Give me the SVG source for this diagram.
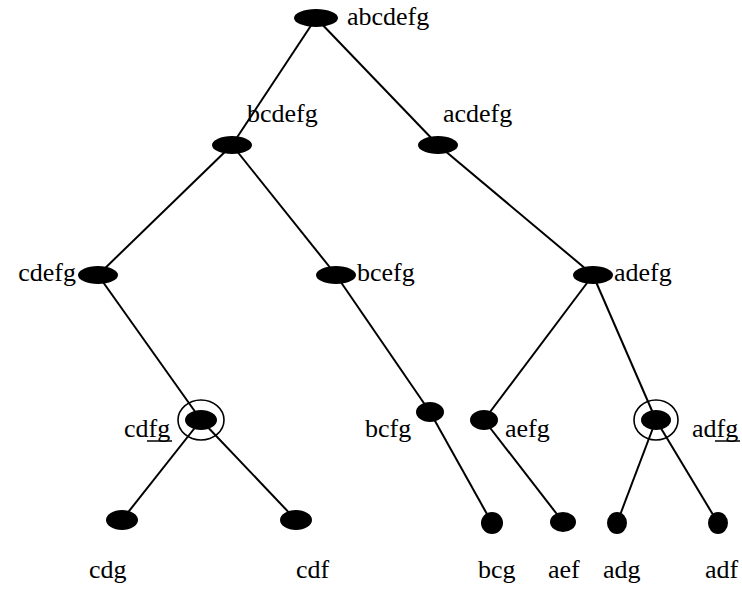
<svg xmlns="http://www.w3.org/2000/svg" width="742" height="593" viewBox="0 0 742 593">
  <style>
    .edge { stroke: #000; stroke-width: 2; fill: none; }
    .dot { fill: #000; }
    .ring { fill: none; stroke: #000; stroke-width: 1.6; }
    .ul { stroke: #000; stroke-width: 1.5; }
  </style>
  <rect width="742" height="593" fill="#fff"/>

  <!-- tree edges, drawn centre to centre under the nodes -->
  <g id="edges">
    <line class="edge" x1="316" y1="18" x2="232" y2="145"/>
    <line class="edge" x1="316" y1="18" x2="438" y2="145"/>
    <line class="edge" x1="232" y1="145" x2="98" y2="275"/>
    <line class="edge" x1="232" y1="145" x2="336" y2="275"/>
    <line class="edge" x1="438" y1="145" x2="593" y2="275"/>
    <line class="edge" x1="98" y1="275" x2="201" y2="420"/>
    <line class="edge" x1="336" y1="275" x2="430" y2="412"/>
    <line class="edge" x1="593" y1="275" x2="484" y2="420"/>
    <line class="edge" x1="593" y1="275" x2="656" y2="420"/>
    <line class="edge" x1="201" y1="420" x2="122" y2="520"/>
    <line class="edge" x1="201" y1="420" x2="296" y2="520"/>
    <line class="edge" x1="430" y1="412" x2="492" y2="523"/>
    <line class="edge" x1="484" y1="420" x2="563" y2="522"/>
    <line class="edge" x1="656" y1="420" x2="617" y2="523"/>
    <line class="edge" x1="656" y1="420" x2="718" y2="523"/>
  </g>

  <g id="nodes" font-family="Liberation Serif" font-size="26" fill="#000">
    <g id="n-abcdefg">
      <ellipse class="dot" cx="316" cy="18" rx="22" ry="9"/>
      <text x="347" y="25">abcdefg</text>
    </g>
    <g id="n-bcdefg">
      <ellipse class="dot" cx="232" cy="145" rx="20" ry="9"/>
      <text x="247" y="122">bcdefg</text>
    </g>
    <g id="n-acdefg">
      <ellipse class="dot" cx="438" cy="145" rx="20" ry="9"/>
      <text x="443" y="122">acdefg</text>
    </g>
    <g id="n-cdefg">
      <ellipse class="dot" cx="98" cy="275" rx="20" ry="9"/>
      <text x="76" y="281" text-anchor="end">cdefg</text>
    </g>
    <g id="n-bcefg">
      <ellipse class="dot" cx="336" cy="275" rx="20" ry="9"/>
      <text x="357" y="281">bcefg</text>
    </g>
    <g id="n-adefg">
      <ellipse class="dot" cx="593" cy="275" rx="20" ry="9"/>
      <text x="614" y="281">adefg</text>
    </g>
    <g id="n-cdfg">
      <ellipse class="ring" cx="201" cy="420" rx="23" ry="20"/>
      <ellipse class="dot" cx="201" cy="420" rx="16" ry="10"/>
      <text x="124" y="437">cdfg</text>
      <line class="ul" x1="147" y1="441" x2="172" y2="441"/>
    </g>
    <g id="n-bcfg">
      <ellipse class="dot" cx="430" cy="412" rx="14" ry="10"/>
      <text x="365" y="437">bcfg</text>
    </g>
    <g id="n-aefg">
      <ellipse class="dot" cx="484" cy="420" rx="14" ry="10"/>
      <text x="505" y="437">aefg</text>
    </g>
    <g id="n-adfg">
      <ellipse class="ring" cx="656" cy="420" rx="22" ry="20"/>
      <ellipse class="dot" cx="656" cy="420" rx="15" ry="10"/>
      <text x="692" y="437">adfg</text>
      <line class="ul" x1="715" y1="441" x2="740" y2="441"/>
    </g>
    <g id="n-cdg">
      <ellipse class="dot" cx="122" cy="520" rx="16" ry="10"/>
      <text x="89" y="578">cdg</text>
    </g>
    <g id="n-cdf">
      <ellipse class="dot" cx="296" cy="520" rx="16" ry="10"/>
      <text x="296" y="578">cdf</text>
    </g>
    <g id="n-bcg">
      <ellipse class="dot" cx="492" cy="523" rx="11" ry="11"/>
      <text x="478" y="578">bcg</text>
    </g>
    <g id="n-aef">
      <ellipse class="dot" cx="563" cy="522" rx="13" ry="10"/>
      <text x="548" y="578">aef</text>
    </g>
    <g id="n-adg">
      <ellipse class="dot" cx="617" cy="523" rx="10" ry="11"/>
      <text x="603" y="578">adg</text>
    </g>
    <g id="n-adf">
      <ellipse class="dot" cx="718" cy="523" rx="10" ry="11"/>
      <text x="705" y="578">adf</text>
    </g>
  </g>
</svg>
